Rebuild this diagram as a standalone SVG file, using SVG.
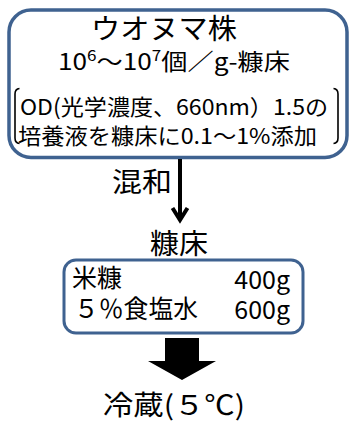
<svg xmlns="http://www.w3.org/2000/svg" width="350" height="423" viewBox="0 0 350 423">
<style>
.box{fill:#fff;stroke:#3F6290;stroke-width:3.5}
.t{font-family:"Noto Sans CJK JP","Noto Sans",sans-serif;fill:#000}
.br{fill:none;stroke:#000;stroke-width:1.6}
</style>
<rect width="350" height="423" fill="#fff"/>
<g id="node-strain">
<rect class="box" x="9" y="10" width="338" height="147.5" rx="22"/>
<text class="t" x="91" y="39" font-size="28" textLength="146" lengthAdjust="spacingAndGlyphs">ウオヌマ株</text>
<text class="t" x="58" y="70" font-size="23" textLength="232" lengthAdjust="spacingAndGlyphs">10<tspan font-size="15" dy="-9">6</tspan><tspan dy="9">～10</tspan><tspan font-size="15" dy="-9">7</tspan><tspan dy="9">個／g-糠床</tspan></text>
<path class="br" d="M19.5,88.5 Q15,89 15,94 L15,138 Q15,143 19.5,143.5"/>
<path class="br" d="M333.5,88.5 Q338,89 338,94 L338,138 Q338,143 333.5,143.5"/>
<text class="t" x="20" y="115" font-size="22" textLength="308" lengthAdjust="spacingAndGlyphs">OD(光学濃度、660nm）1.5の</text>
<text class="t" x="18" y="144" font-size="22" textLength="299" lengthAdjust="spacingAndGlyphs">培養液を糠床に0.1～1%添加</text>
</g>
<g id="connectors">
<line x1="180" y1="159" x2="180" y2="219" stroke="#000" stroke-width="4"/>
<polyline points="172.5,208 180,220 187.5,208" fill="none" stroke="#000" stroke-width="4" stroke-linejoin="miter"/>
<text class="t" x="112" y="192" font-size="27" textLength="60" lengthAdjust="spacingAndGlyphs">混和</text>
<polygon points="165,338 199,338 199,361 216,361 182,380 148,361 165,361" fill="#000"/>
</g>
<g id="node-bed">
<text class="t" x="150" y="254" font-size="28" textLength="58" lengthAdjust="spacingAndGlyphs">糠床</text>
<rect class="box" x="64" y="260" width="239" height="73" rx="12" style="stroke-width:3"/>
<text class="t" x="72" y="287" font-size="25" textLength="50" lengthAdjust="spacingAndGlyphs">米糠</text>
<text class="t" x="290" y="289" font-size="25" text-anchor="end">400g</text>
<text class="t" x="74" y="318" font-size="25" textLength="124" lengthAdjust="spacingAndGlyphs">５％食塩水</text>
<text class="t" x="290" y="319" font-size="25" text-anchor="end">600g</text>
</g>
<g id="node-cold">
<text class="t" x="103" y="415" font-size="27" textLength="142" lengthAdjust="spacingAndGlyphs">冷蔵(５℃)</text>
</g>
</svg>
